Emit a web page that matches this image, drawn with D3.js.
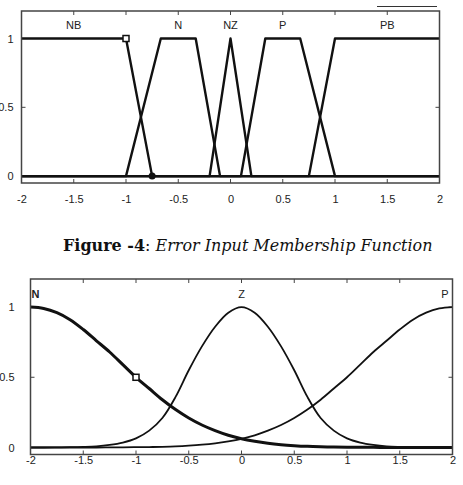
<!DOCTYPE html>
<html>
<head>
<meta charset="utf-8">
<script src="https://cdn.jsdelivr.net/npm/d3@7"></script>
<style>
  body { margin: 0; background: #fff; }
  svg { display: block; }
  .tick text { font-family: "Liberation Sans", Arial, sans-serif; font-size: 11px; fill: #222; }
  .mf-label { font-family: "Liberation Sans", Arial, sans-serif; font-size: 11px; fill: #222; }
</style>
</head>
<body>
<svg class="chart" width="463" height="485"></svg>
<script>
// x / y ticks shared by both panels
var xTicks = [-2, -1.5, -1, -0.5, 0, 0.5, 1, 1.5, 2];
var yTicks = [0, 0.5, 1];

// top panel: error input membership functions (breakpoints)
var errNames  = ["NB", "N", "NZ", "P", "PB"];
var errLabelX = [-1.5, -0.5, 0, 0.5, 1.5];
var errX = [
  [-2, -1, -0.75, 2],
  [-2, -1, -0.667, -0.333, -0.1, 2],
  [-2, -0.2, 0, 0.2, 2],
  [-2, 0.1, 0.333, 0.667, 1, 2],
  [-2, 0.75, 1, 2]
];
var errMu = [
  [1, 1, 0, 0],
  [0, 0, 1, 1, 0, 0],
  [0, 0, 1, 0, 0],
  [0, 0, 1, 1, 0, 0],
  [0, 0, 1, 1]
];

// bottom panel: curves sampled off the figure
var curveX = [-2, -1.875, -1.75, -1.625, -1.5, -1.375, -1.25, -1.125, -1, -0.875, -0.75, -0.625, -0.5, -0.375, -0.25, -0.125,
              0, 0.125, 0.25, 0.375, 0.5, 0.625, 0.75, 0.875, 1, 1.125, 1.25, 1.375, 1.5, 1.625, 1.75, 1.875, 2];
var curveN = [1, 0.99, 0.96, 0.91, 0.84, 0.76, 0.68, 0.59, 0.5, 0.42, 0.34, 0.27, 0.21, 0.16, 0.12, 0.087,
              0.062, 0.044, 0.03, 0.02, 0.013, 0.008, 0.005, 0.003, 0.002, 0.001, 0.001, 0, 0, 0, 0, 0, 0];
var curveZ = [0, 0, 0.001, 0.002, 0.004, 0.008, 0.018, 0.035, 0.065, 0.12, 0.21, 0.36, 0.55, 0.72, 0.86, 0.96,
              1, 0.96, 0.86, 0.72, 0.55, 0.36, 0.21, 0.12, 0.065, 0.035, 0.018, 0.008, 0.004, 0.002, 0.001, 0, 0];
var curveP = [0, 0, 0, 0, 0, 0, 0.001, 0.001, 0.002, 0.003, 0.005, 0.008, 0.013, 0.02, 0.03, 0.044,
              0.062, 0.087, 0.12, 0.16, 0.21, 0.27, 0.34, 0.42, 0.5, 0.59, 0.68, 0.76, 0.84, 0.91, 0.96, 0.99, 1];
var curveNames = ["N", "Z", "P"];

var caption = ["Figure -4", ": ", "Error Input Membership Function"];

var svg = d3.select(".chart");

function panel(box) {
  var x = d3.scaleLinear().domain([-2, 2]).range([box.left, box.right]);
  var y = d3.scaleLinear().domain([-0.05, 1.2]).range([box.bottom, box.top]);
  var g = svg.append("g");

  // x labels
  g.append("g")
    .attr("transform", "translate(0," + box.bottom + ")")
    .call(d3.axisBottom(x).tickValues(xTicks).tickSize(0).tickPadding(box.xPad).tickFormat(function(d) { return String(d); }))
    .call(function(s) { s.select(".domain").remove(); });

  // y labels
  g.append("g")
    .attr("transform", "translate(" + box.left + ",0)")
    .call(d3.axisLeft(y).tickValues(yTicks).tickSize(0).tickPadding(box.yPad).tickFormat(function(d) { return String(d); }))
    .call(function(s) { s.select(".domain").remove(); });

  // inward tick marks
  var tk = g.append("g").attr("stroke", "#444").attr("stroke-width", 1);
  xTicks.forEach(function(v) {
    tk.append("line").attr("x1", x(v)).attr("x2", x(v)).attr("y1", box.top).attr("y2", box.top + 4);
    tk.append("line").attr("x1", x(v)).attr("x2", x(v)).attr("y1", box.bottom).attr("y2", box.bottom - 4);
  });
  yTicks.forEach(function(v) {
    tk.append("line").attr("x1", box.left).attr("x2", box.left + 4).attr("y1", y(v)).attr("y2", y(v));
    tk.append("line").attr("x1", box.right).attr("x2", box.right - 4).attr("y1", y(v)).attr("y2", y(v));
  });

  return { g: g, x: x, y: y };
}

function frame(p, box) {
  p.g.append("rect")
    .attr("x", box.left).attr("y", box.top)
    .attr("width", box.right - box.left).attr("height", box.bottom - box.top)
    .attr("fill", "none").attr("stroke", "#444").attr("stroke-width", 1.5);
}

// ---- top panel ----
var topBox = { left: 21.5, right: 439.5, top: 11, bottom: 183, xPad: 12, yPad: 8 };
var errPanel = panel(topBox);

var trap = d3.line()
  .x(function(d) { return errPanel.x(d[0]); })
  .y(function(d) { return errPanel.y(d[1]); });

errNames.forEach(function(name, i) {
  var pts = errX[i].map(function(v, j) { return [v, errMu[i][j]]; });
  errPanel.g.append("path")
    .attr("d", trap(pts))
    .attr("fill", "none").attr("stroke", "#111").attr("stroke-width", 2.4)
    .attr("stroke-linejoin", "round");
  errPanel.g.append("text")
    .attr("class", "mf-label")
    .attr("x", errPanel.x(errLabelX[i]))
    .attr("y", errPanel.y(1.1))
    .attr("text-anchor", "middle")
    .attr("dy", "0.35em")
    .text(name);
});

// selected MF markers
errPanel.g.append("rect")
  .attr("x", errPanel.x(-1) - 3).attr("y", errPanel.y(1) - 3)
  .attr("width", 6).attr("height", 6)
  .attr("fill", "#fff").attr("stroke", "#111").attr("stroke-width", 1.5);
errPanel.g.append("circle")
  .attr("cx", errPanel.x(-0.75)).attr("cy", errPanel.y(0)).attr("r", 3.5)
  .attr("fill", "#111");

frame(errPanel, topBox);

// stray line at the top right of the scan
svg.append("line")
  .attr("x1", 377).attr("x2", 437).attr("y1", 6.5).attr("y2", 6.5)
  .attr("stroke", "#333").attr("stroke-width", 1);

// ---- caption ----
var cap = svg.append("text")
  .attr("x", 63).attr("y", 251)
  .style("font-family", "'DejaVu Serif', 'Liberation Serif', serif")
  .style("font-size", "16px")
  .attr("fill", "#111");
cap.append("tspan").style("font-weight", "bold").text(caption[0]);
cap.append("tspan").text(caption[1]);
cap.append("tspan").style("font-style", "italic").text(caption[2]);
var cw = cap.node().getComputedTextLength();
cap.style("font-size", (16 * 370 / cw) + "px");

// ---- bottom panel ----
var botBox = { left: 30.5, right: 452.5, top: 279, bottom: 454.5, xPad: 2, yPad: 16 };
var bot = panel(botBox);

var smooth = d3.line()
  .x(function(d) { return bot.x(d[0]); })
  .y(function(d) { return bot.y(d[1]); })
  .curve(d3.curveCatmullRom.alpha(0.5));

[curveZ, curveP, curveN].forEach(function(vals, i) {
  var pts = curveX.map(function(v, j) { return [v, vals[j]]; });
  bot.g.append("path")
    .attr("d", smooth(pts))
    .attr("fill", "none").attr("stroke", "#111")
    .attr("stroke-width", i === 2 ? 3 : 1.8);
});

bot.g.append("text").attr("class", "mf-label")
  .attr("x", bot.x(-2) + 1).attr("y", bot.y(1.09)).attr("dy", "0.35em")
  .attr("text-anchor", "start").style("font-weight", "bold").text(curveNames[0]);
bot.g.append("text").attr("class", "mf-label")
  .attr("x", bot.x(0)).attr("y", bot.y(1.09)).attr("dy", "0.35em")
  .attr("text-anchor", "middle").text(curveNames[1]);
bot.g.append("text").attr("class", "mf-label")
  .attr("x", bot.x(2) - 4).attr("y", bot.y(1.09)).attr("dy", "0.35em")
  .attr("text-anchor", "end").text(curveNames[2]);

bot.g.append("rect")
  .attr("x", bot.x(-1) - 3).attr("y", bot.y(0.5) - 3)
  .attr("width", 6).attr("height", 6)
  .attr("fill", "#fff").attr("stroke", "#111").attr("stroke-width", 1.5);

frame(bot, botBox);
</script>
</body>
</html>
